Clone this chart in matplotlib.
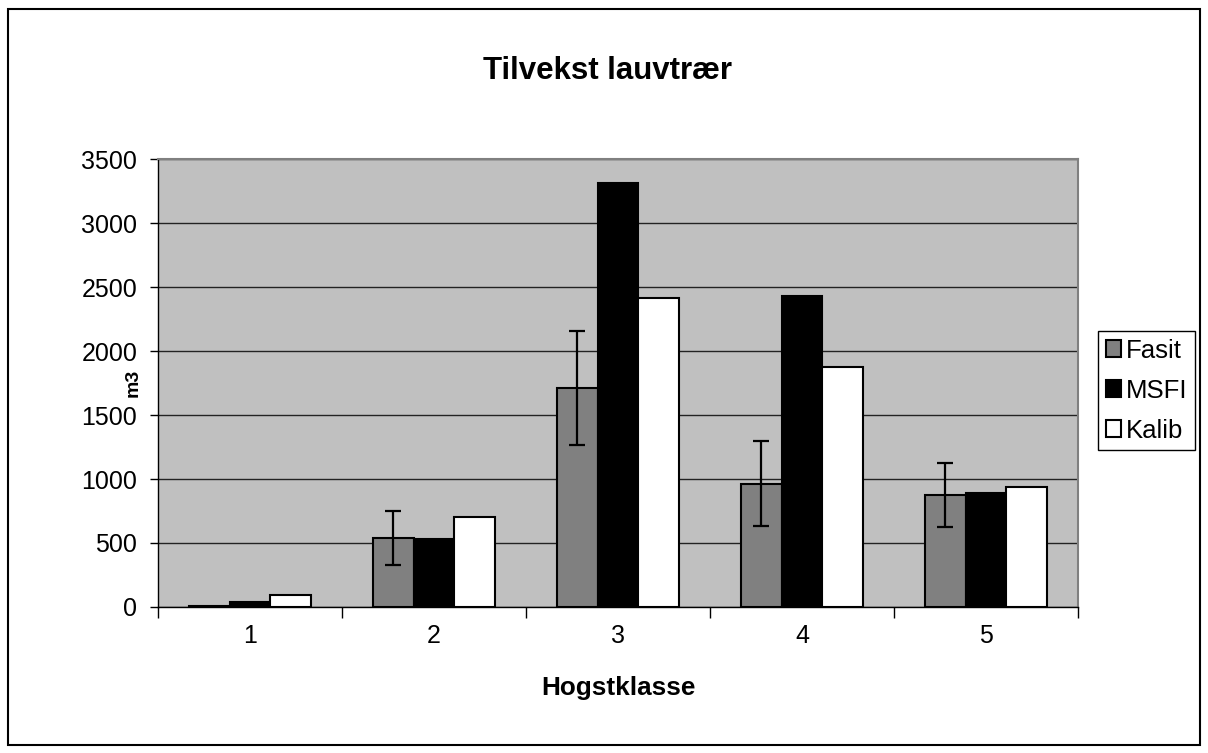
import matplotlib.pyplot as plt
import numpy as np
from matplotlib.patches import Rectangle

plt.rcParams['font.family'] = ['Liberation Sans', 'DejaVu Sans']

# Data
klasser = ['1', '2', '3', '4', '5']
fasit = [5, 540, 1713, 962, 875]
fasit_err = [0, 213, 447, 332, 250]
msfi = [40, 533, 3310, 2430, 893]
kalib = [96, 703, 2416, 1873, 940]

fig = plt.figure(figsize=(12.08, 7.53), dpi=100)
ax = fig.add_axes([0.1308, 0.1939, 0.7616, 0.5949])
ax.set_facecolor('#c0c0c0')

x = np.arange(len(klasser))
w = 1 / 4.5

ax.bar(x - w, fasit, w, color='#808080', edgecolor='black', linewidth=1.5,
       label='Fasit', zorder=3)
ax.bar(x, msfi, w, color='black', edgecolor='black', linewidth=1.5,
       label='MSFI', zorder=3)
ax.bar(x + w, kalib, w, color='white', edgecolor='black', linewidth=1.5,
       label='Kalib', zorder=3)
ax.errorbar(x[1:] - w, fasit[1:], yerr=fasit_err[1:], fmt='none', ecolor='black',
            elinewidth=1.6, capsize=6, capthick=1.6, zorder=4)

ax.set_xlim(-0.5, 4.5)
ax.set_ylim(0, 3500)
ax.set_yticks(np.arange(0, 3501, 500))
ax.yaxis.grid(True, color='#222222', linewidth=1)
ax.set_axisbelow(True)

ax.set_xticks(np.arange(-0.5, 4.6, 1))
ax.set_xticklabels([])
ax.set_xticks(x, minor=True)
ax.set_xticklabels(klasser, minor=True)
ax.tick_params(axis='x', which='major', length=8, width=1, direction='out')
ax.tick_params(axis='x', which='minor', length=0, pad=12, labelsize=18)
ax.tick_params(axis='y', length=6, width=1, direction='out', labelsize=18, pad=9)

for s in ['top', 'right']:
    ax.spines[s].set_color('#808080')
    ax.spines[s].set_linewidth(1.5)
for s in ['left', 'bottom']:
    ax.spines[s].set_color('black')
    ax.spines[s].set_linewidth(1)

fig.text(0.503, 0.906, 'Tilvekst lauvtrær', ha='center', va='center',
         fontsize=22.5, fontweight='bold')
fig.text(0.5116, 0.0863, 'Hogstklasse', ha='center', va='center',
         fontsize=18.8, fontweight='bold')
fig.text(0.110, 0.4914, 'm3', ha='center', va='center', rotation=90,
         fontsize=14, fontweight='bold')

leg = ax.legend(loc='upper left', bbox_to_anchor=(1098 / 1208, 1 - 331 / 753),
                bbox_transform=fig.transFigure, fontsize=18.5, frameon=True,
                fancybox=False, framealpha=1, edgecolor='black',
                handlelength=0.6, handleheight=0.6, handletextpad=0.2,
                borderpad=0.3, labelspacing=0.62, borderaxespad=0)
leg.get_frame().set_linewidth(1)

fig.patches.append(Rectangle((8 / 1208, 8 / 753), 1192 / 1208, 736 / 753,
                             transform=fig.transFigure, fill=False,
                             edgecolor='black', linewidth=1.5))

plt.savefig('out.png', dpi=100)
